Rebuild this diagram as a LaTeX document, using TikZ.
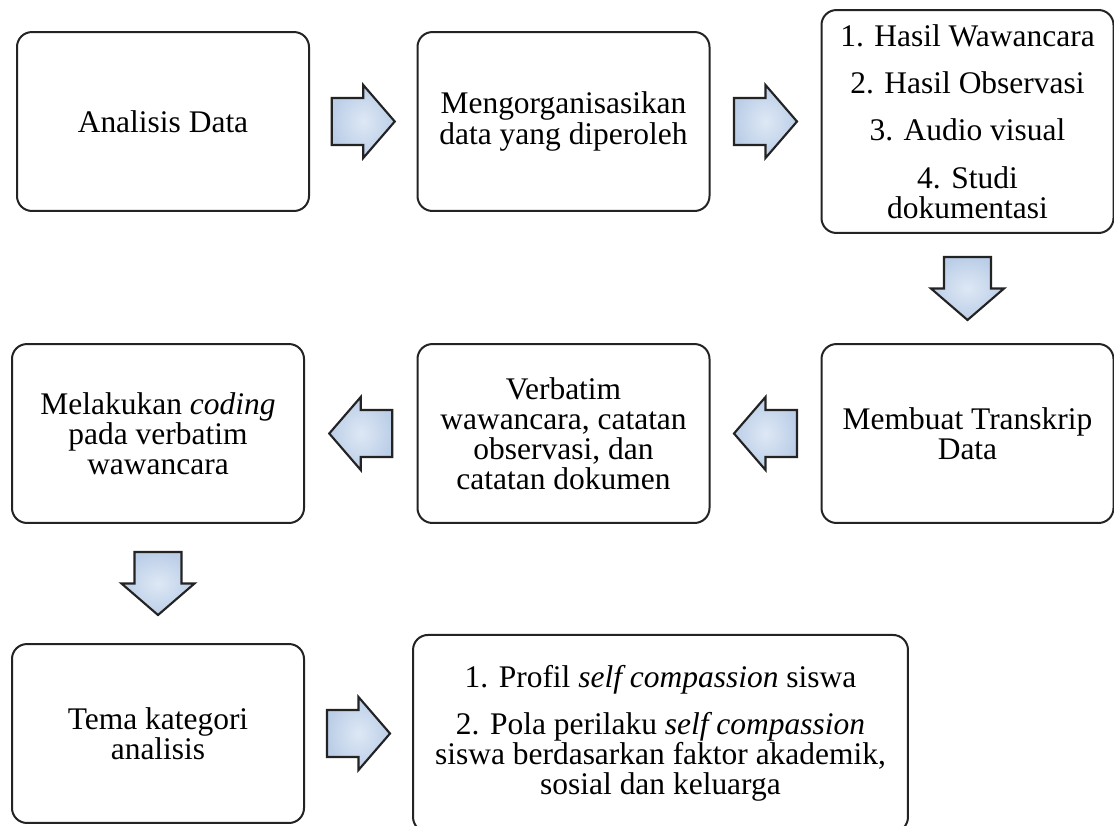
\documentclass[tikz,border=0pt]{standalone}
\usepackage{fontspec}
\setmainfont{Liberation Serif}
\usepackage{tikz}
\usetikzlibrary{calc,positioning}
\usepackage{xcolor}

\definecolor{panahbiru}{RGB}{187,206,231}
\definecolor{panahterang}{RGB}{222,232,245}
\definecolor{garis}{RGB}{35,35,35}

\tikzset{
	kotak/.style={draw=garis, rounded corners=5.6pt, line width=0.75pt, align=center,
		inner sep=0pt, minimum width=109.5pt, minimum height=67.1pt,
		font=\fontsize{11.8pt}{11.3pt}\selectfont},
	panah/.style={inner color=panahterang, outer color=panahbiru, draw=garis, line width=0.8pt, line join=miter},
	blokpanah/.pic={
		\draw[panah] (-31.5,-23.5) -- (0,-23.5) -- (0,-36.5) -- (31.5,0) -- (0,36.5) -- (0,23.5) -- (-31.5,23.5) -- cycle;
	}
}

\begin{document}
\begin{tikzpicture}[x=0.375pt,y=-0.375pt]
		\useasboundingbox (0,0) rectangle (1114,825);
		
		% baris atas
		\node[kotak] (analisis) at (163,121.5) {Analisis Data};
		\node[kotak] (organisasi) at (563.5,121.5) {Mengorganisasikan\\data yang diperoleh};
		\node[kotak,minimum height=83.6pt] (sumber) at (967.5,121.5) {1. Hasil Wawancara\\[6.4pt]2. Hasil Observasi\\[6.4pt]3. Audio visual\\[6.4pt]4. Studi\\dokumentasi};
		
		% baris tengah
		\node[kotak] (transkrip) at (967.5,433.5) {Membuat Transkrip\\Data};
		\node[kotak] (verbatim) at (563.5,433.5) {Verbatim\\wawancara, catatan\\observasi, dan\\catatan dokumen};
		\node[kotak] (coding) at (158,433.5) {Melakukan \textit{coding}\\pada verbatim\\wawancara};
		
		% baris bawah
		\node[kotak] (tema) at (158,733.5) {Tema kategori\\analisis};
		\node[kotak,minimum width=185.6pt,minimum height=73.9pt] (hasil) at (660.5,733.5) {1. Profil \textit{self compassion} siswa\\[6.4pt]2. Pola perilaku \textit{self compassion}\\siswa berdasarkan faktor akademik,\\sosial dan keluarga};
		
		\foreach \dari/\ke/\sudut in {analisis.east/organisasi.west/0, organisasi.east/sumber.west/0,
			sumber.south/transkrip.north/-90, transkrip.west/verbatim.east/180, verbatim.west/coding.east/180,
			coding.south/tema.north/-90, tema.east/hasil.west/0}
		\pic[rotate=\sudut] at ($(\dari)!.5!(\ke)$) {blokpanah};
	\end{tikzpicture}
\end{document}
